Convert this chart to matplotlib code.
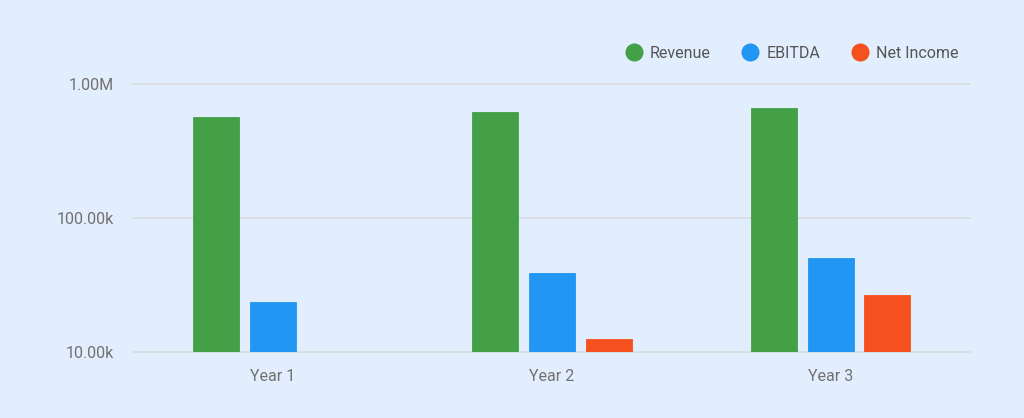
import matplotlib.pyplot as plt
import numpy as np
from matplotlib.ticker import FixedLocator, FixedFormatter
from matplotlib.lines import Line2D

plt.rcParams['font.family'] = ['Roboto', 'DejaVu Sans']

years = ["Year 1", "Year 2", "Year 3"]
revenue = [567000, 621000, 665000]
ebitda = [23600, 39300, 50500]
net_income = [np.nan, 12500, 26600]
series_names = ["Revenue", "EBITDA", "Net Income"]
y_ticks = [1e4, 1e5, 1e6]
y_labels = ["10.00k", "100.00k", "1.00M"]

bg = "#E2EEFD"
colors = ["#43A047", "#2196F3", "#F4511E"]
text_col = "#717171"
grid_col = "#D9DDE2"

fig = plt.figure(figsize=(10.24, 4.18), dpi=100, facecolor=bg)
ax = fig.add_axes([133 / 1024, 1 - 352.3 / 418, (970 - 133) / 1024, (352.3 - 84) / 418])
ax.set_facecolor(bg)

x = np.arange(len(years))
width = 46 / 279
step = 57 / 279
for i, (vals, c) in enumerate(zip([revenue, ebitda, net_income], colors)):
    vals = np.array(vals, dtype=float)
    ok = ~np.isnan(vals)
    ax.bar(x[ok] + (i - 1) * step, vals[ok], width=width, bottom=1,
           color=c, edgecolor=c, linewidth=0.6, zorder=3)

ax.set_yscale("log")
ax.set_ylim(1e4, 1e6)
ax.set_xlim(-0.5, 2.5)
ax.yaxis.set_major_locator(FixedLocator(y_ticks))
ax.yaxis.set_major_formatter(FixedFormatter(y_labels))
ax.yaxis.set_minor_locator(FixedLocator([]))
ax.set_xticks(x)
ax.set_xticklabels(years)
ax.tick_params(axis="both", length=0, colors=text_col, labelsize=11.5)
ax.tick_params(axis="y", pad=14)
ax.tick_params(axis="x", pad=12)
ax.grid(False)
for t in y_ticks:
    ax.axhline(t, color=grid_col, linewidth=1.2, zorder=1, clip_on=False)
for s in ax.spines.values():
    s.set_visible(False)

handles = [Line2D([], [], marker="o", linestyle="", markersize=12,
                  markerfacecolor=c, markeredgecolor=c) for c in colors]
fig.legend(handles, series_names, loc="center right", bbox_to_anchor=(973 / 1024, 1 - 53 / 418),
           ncol=3, frameon=False, fontsize=11.5, labelcolor="#555555",
           handletextpad=0.5, columnspacing=2.0, handlelength=1.0)

fig.savefig("out.png", dpi=100, facecolor=bg)
